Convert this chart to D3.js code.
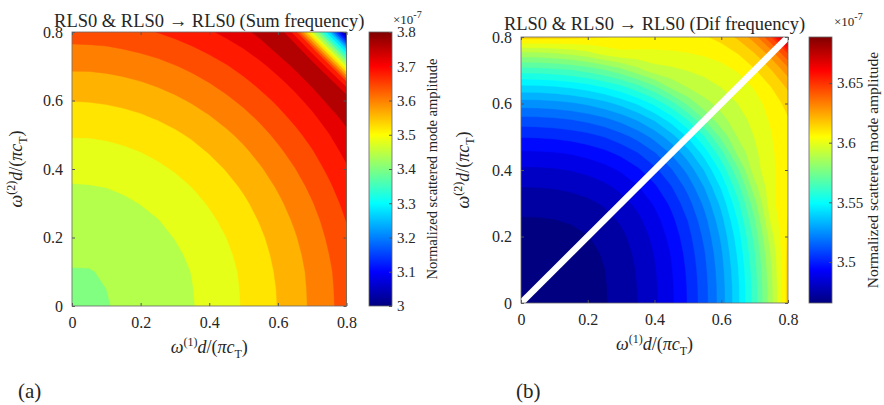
<!DOCTYPE html>
<html>
<head>
<meta charset="utf-8">
<script src="https://cdn.jsdelivr.net/npm/d3@7"></script>
<style>
  body { margin: 0; background: #fff; }
  text { font-family: "Liberation Serif", "Times New Roman", serif; fill: #262626; }
</style>
</head>
<body>
<svg width="884" height="405"></svg>
<script>

// Grid of normalized frequencies, omega d/(pi c_T)
var freq = [0, 0.05, 0.1, 0.15, 0.2, 0.25, 0.3, 0.35, 0.4, 0.45, 0.5, 0.55, 0.6, 0.65, 0.7, 0.75, 0.8];
var freqTicks = [0, 0.2, 0.4, 0.6, 0.8];

// Amplitude (x 1e-7), rows: omega(2) = 0 .. 0.8, columns: omega(1) = 0 .. 0.8
var sumAmp = [
  [3.435, 3.436, 3.439, 3.443, 3.449, 3.457, 3.467, 3.478, 3.491, 3.506, 3.523, 3.541, 3.561, 3.583, 3.607, 3.632, 3.659],
  [3.436, 3.437, 3.440, 3.444, 3.450, 3.458, 3.468, 3.479, 3.492, 3.507, 3.524, 3.542, 3.562, 3.584, 3.608, 3.633, 3.660],
  [3.439, 3.439, 3.442, 3.446, 3.453, 3.460, 3.470, 3.481, 3.495, 3.509, 3.526, 3.544, 3.565, 3.586, 3.610, 3.635, 3.663],
  [3.443, 3.444, 3.446, 3.451, 3.457, 3.465, 3.474, 3.486, 3.499, 3.514, 3.530, 3.549, 3.569, 3.591, 3.614, 3.640, 3.667],
  [3.449, 3.450, 3.453, 3.457, 3.463, 3.471, 3.481, 3.492, 3.505, 3.520, 3.537, 3.555, 3.575, 3.597, 3.621, 3.646, 3.673],
  [3.457, 3.458, 3.460, 3.465, 3.471, 3.479, 3.488, 3.500, 3.513, 3.528, 3.544, 3.563, 3.583, 3.605, 3.628, 3.654, 3.681],
  [3.467, 3.467, 3.470, 3.474, 3.481, 3.488, 3.498, 3.509, 3.523, 3.537, 3.554, 3.572, 3.593, 3.614, 3.638, 3.663, 3.691],
  [3.478, 3.479, 3.481, 3.486, 3.492, 3.500, 3.509, 3.521, 3.534, 3.549, 3.565, 3.584, 3.604, 3.626, 3.649, 3.675, 3.702],
  [3.491, 3.492, 3.495, 3.499, 3.505, 3.513, 3.523, 3.534, 3.547, 3.562, 3.579, 3.597, 3.617, 3.639, 3.663, 3.688, 3.715],
  [3.506, 3.507, 3.509, 3.514, 3.520, 3.528, 3.537, 3.549, 3.562, 3.577, 3.593, 3.612, 3.632, 3.654, 3.677, 3.703, 3.730],
  [3.523, 3.523, 3.526, 3.530, 3.537, 3.544, 3.554, 3.565, 3.579, 3.593, 3.610, 3.628, 3.649, 3.670, 3.694, 3.719, 3.747],
  [3.541, 3.542, 3.544, 3.549, 3.555, 3.563, 3.572, 3.584, 3.597, 3.612, 3.628, 3.647, 3.667, 3.689, 3.712, 3.738, 3.776],
  [3.561, 3.562, 3.565, 3.569, 3.575, 3.583, 3.593, 3.604, 3.617, 3.632, 3.649, 3.667, 3.687, 3.709, 3.733, 3.772, 3.790],
  [3.583, 3.584, 3.586, 3.591, 3.597, 3.605, 3.614, 3.626, 3.639, 3.654, 3.670, 3.689, 3.709, 3.731, 3.768, 3.788, 3.700],
  [3.607, 3.607, 3.610, 3.614, 3.621, 3.628, 3.638, 3.649, 3.663, 3.677, 3.694, 3.712, 3.733, 3.768, 3.785, 3.696, 3.480],
  [3.632, 3.633, 3.635, 3.640, 3.646, 3.654, 3.663, 3.675, 3.688, 3.703, 3.719, 3.738, 3.772, 3.788, 3.696, 3.479, 3.280],
  [3.659, 3.660, 3.663, 3.667, 3.673, 3.681, 3.691, 3.702, 3.715, 3.730, 3.747, 3.776, 3.790, 3.700, 3.480, 3.280, 3.000]
];

var difAmp = [
  [3.4656, 3.4658, 3.4666, 3.4678, 3.4697, 3.4724, 3.4759, 3.4805, 3.4865, 3.4939, 3.5032, 3.5146, 3.5286, 3.5454, 3.5655, 3.5894, 3.6175],
  [3.4658, 3.4660, 3.4667, 3.4679, 3.4698, 3.4725, 3.4760, 3.4807, 3.4866, 3.4941, 3.5034, 3.5149, 3.5288, 3.5457, 3.5659, 3.5898, 3.6174],
  [3.4666, 3.4667, 3.4672, 3.4683, 3.4702, 3.4729, 3.4765, 3.4811, 3.4871, 3.4947, 3.5041, 3.5157, 3.5297, 3.5467, 3.5671, 3.5911, 3.6170],
  [3.4678, 3.4679, 3.4683, 3.4694, 3.4711, 3.4738, 3.4773, 3.4821, 3.4882, 3.4958, 3.5054, 3.5171, 3.5313, 3.5486, 3.5690, 3.5933, 3.6163],
  [3.4697, 3.4698, 3.4702, 3.4711, 3.4728, 3.4754, 3.4789, 3.4837, 3.4899, 3.4977, 3.5074, 3.5194, 3.5338, 3.5512, 3.5721, 3.5967, 3.6154],
  [3.4724, 3.4725, 3.4729, 3.4738, 3.4754, 3.4779, 3.4814, 3.4862, 3.4925, 3.5005, 3.5104, 3.5225, 3.5373, 3.5551, 3.5763, 3.6013, 3.6145],
  [3.4759, 3.4760, 3.4765, 3.4773, 3.4789, 3.4814, 3.4850, 3.4899, 3.4963, 3.5044, 3.5146, 3.5270, 3.5421, 3.5602, 3.5819, 3.6045, 3.6137],
  [3.4805, 3.4807, 3.4811, 3.4821, 3.4837, 3.4862, 3.4899, 3.4949, 3.5014, 3.5097, 3.5201, 3.5329, 3.5484, 3.5670, 3.5891, 3.6045, 3.6131],
  [3.4865, 3.4866, 3.4871, 3.4882, 3.4899, 3.4925, 3.4963, 3.5014, 3.5081, 3.5167, 3.5274, 3.5405, 3.5565, 3.5755, 3.5961, 3.6047, 3.6127],
  [3.4939, 3.4941, 3.4947, 3.4958, 3.4977, 3.5005, 3.5044, 3.5097, 3.5167, 3.5255, 3.5366, 3.5502, 3.5665, 3.5862, 3.5976, 3.6054, 3.6126],
  [3.5032, 3.5034, 3.5041, 3.5054, 3.5074, 3.5104, 3.5146, 3.5201, 3.5274, 3.5366, 3.5480, 3.5621, 3.5790, 3.5924, 3.5996, 3.6064, 3.6128],
  [3.5146, 3.5149, 3.5157, 3.5171, 3.5194, 3.5225, 3.5270, 3.5329, 3.5405, 3.5502, 3.5621, 3.5767, 3.5896, 3.5958, 3.6019, 3.6078, 3.6133],
  [3.5286, 3.5288, 3.5297, 3.5313, 3.5338, 3.5373, 3.5421, 3.5484, 3.5565, 3.5665, 3.5790, 3.5896, 3.5945, 3.5995, 3.6045, 3.6094, 3.6171],
  [3.5454, 3.5457, 3.5467, 3.5486, 3.5512, 3.5551, 3.5602, 3.5670, 3.5755, 3.5862, 3.5924, 3.5958, 3.5995, 3.6034, 3.6074, 3.6143, 3.6230],
  [3.5655, 3.5659, 3.5671, 3.5690, 3.5721, 3.5763, 3.5819, 3.5891, 3.5961, 3.5976, 3.5996, 3.6019, 3.6045, 3.6074, 3.6134, 3.6213, 3.6331],
  [3.5894, 3.5898, 3.5911, 3.5933, 3.5967, 3.6013, 3.6045, 3.6045, 3.6047, 3.6054, 3.6064, 3.6078, 3.6094, 3.6143, 3.6213, 3.6323, 3.6512],
  [3.6175, 3.6174, 3.6170, 3.6163, 3.6154, 3.6145, 3.6137, 3.6131, 3.6127, 3.6126, 3.6128, 3.6133, 3.6171, 3.6230, 3.6331, 3.6512, 3.6886]
];

// Colorbar ranges and ticks
var sumRange = [3.0, 3.8];
var difRange = [3.4656, 3.6886];
var sumBarTicks = [3, 3.1, 3.2, 3.3, 3.4, 3.5, 3.6, 3.7, 3.8];
var difBarTicks = [3.5, 3.55, 3.6, 3.65];

var svg = d3.select('svg');

// MATLAB jet colormap
var jetStops = [0, 0.125, 0.375, 0.625, 0.875, 1];
var jetColors = ['#000080', '#0000ff', '#00ffff', '#ffff00', '#ff0000', '#800000'];
var jet = d3.scaleLinear().domain(jetStops).range(jetColors).clamp(true);

var panels = [
  {
    id: 'a', grid: sumAmp, range: sumRange, barTicks: sumBarTicks, nLevels: 20,
    title: 'RLS0 & RLS0 \u2192 RLS0 (Sum frequency)',
    x0: 72, x1: 346.5, y0: 32, y1: 306, barX: 369, titleY: 27,
    expX: 393, expY: 24, xLabelY: 353, yLabelX: 22, cbLabelX: 437, cbFont: 14.5,
    tag: '(a)', tagX: 18
  },
  {
    id: 'b', grid: difAmp, range: difRange, barTicks: difBarTicks, nLevels: 30,
    title: 'RLS0 & RLS0 \u2192 RLS0 (Dif frequency)',
    x0: 521, x1: 788, y0: 37, y1: 303, barX: 809, titleY: 30,
    expX: 834, expY: 26, xLabelY: 350, yLabelX: 469, cbLabelX: 878, cbFont: 15.5,
    tag: '(b)', tagX: 516, diagonal: true
  }
];

// omega^(n) d/(pi c_T)
function freqLabel(sel, n) {
  sel.append('tspan').attr('font-style', 'italic').text('\u03c9');
  sel.append('tspan').attr('font-size', '12px').attr('dy', -7).text('(' + n + ')');
  sel.append('tspan').attr('font-style', 'italic').attr('dy', 7).text('d');
  sel.append('tspan').text('/(');
  sel.append('tspan').attr('font-style', 'italic').text('\u03c0c');
  sel.append('tspan').attr('font-size', '12px').attr('dy', 5).text('T');
  sel.append('tspan').attr('dy', -5).text(')');
}

function drawPanel(p) {
  var g = svg.append('g');
  var xs = d3.scaleLinear().domain([0, 0.8]).range([p.x0, p.x1]);
  var ys = d3.scaleLinear().domain([0, 0.8]).range([p.y1, p.y0]);
  var lo = p.range[0], hi = p.range[1];
  var color = function(v) { return jet((v - lo) / (hi - lo)); };

  // Filled contours
  var values = d3.merge(p.grid);
  var levels = d3.range(p.nLevels).map(function(k) { return lo + k * (hi - lo) / p.nLevels; });
  var contours = d3.contours().size([freq.length, freq.length]).thresholds(levels)(values);
  var step = freq[1] - freq[0];
  var proj = d3.geoTransform({
    point: function(x, y) {
      this.stream.point(xs(freq[0] + (x - 0.5) * step), ys(freq[0] + (y - 0.5) * step));
    }
  });
  var path = d3.geoPath(proj);

  g.append('clipPath').attr('id', 'clip-' + p.id)
    .append('rect').attr('x', p.x0).attr('y', p.y0)
    .attr('width', p.x1 - p.x0).attr('height', p.y1 - p.y0);

  var plot = g.append('g').attr('clip-path', 'url(#clip-' + p.id + ')');
  plot.append('rect').attr('x', p.x0).attr('y', p.y0)
    .attr('width', p.x1 - p.x0).attr('height', p.y1 - p.y0)
    .attr('fill', color(lo));
  plot.selectAll('path.band').data(contours).enter().append('path')
    .attr('class', 'band')
    .attr('d', path)
    .attr('fill', function(d) { return color(d.value); })
    .attr('stroke', function(d) { return color(d.value); })
    .attr('stroke-width', 0.4);

  if (p.diagonal) {
    g.append('line')
      .attr('x1', xs(freq[0])).attr('y1', ys(freq[0]))
      .attr('x2', xs(freq[freq.length - 1])).attr('y2', ys(freq[freq.length - 1]))
      .attr('stroke', '#fff').attr('stroke-width', 6.5);
  }

  // Axes with inward ticks
  var fmt = function(d) { return String(d); };
  var ax = g.append('g').attr('transform', 'translate(0,' + p.y1 + ')')
    .call(d3.axisBottom(xs).tickValues(freqTicks).tickFormat(fmt).tickSizeInner(-3).tickSizeOuter(0).tickPadding(11));
  var ay = g.append('g').attr('transform', 'translate(' + p.x0 + ',0)')
    .call(d3.axisLeft(ys).tickValues(freqTicks).tickFormat(fmt).tickSizeInner(-3).tickSizeOuter(0).tickPadding(9));
  var at = g.append('g').attr('transform', 'translate(0,' + p.y0 + ')')
    .call(d3.axisTop(xs).tickValues(freqTicks).tickFormat('').tickSizeInner(-3).tickSizeOuter(0));
  var ar = g.append('g').attr('transform', 'translate(' + p.x1 + ',0)')
    .call(d3.axisRight(ys).tickValues(freqTicks).tickFormat('').tickSizeInner(-3).tickSizeOuter(0));
  [ax, ay, at, ar].forEach(function(a) {
    a.select('.domain').remove();
    a.selectAll('line').attr('stroke', '#555');
    a.selectAll('text').attr('font-size', '16px').attr('font-family', null).attr('fill', '#262626');
  });
  g.append('rect').attr('x', p.x0).attr('y', p.y0)
    .attr('width', p.x1 - p.x0).attr('height', p.y1 - p.y0)
    .attr('fill', 'none').attr('stroke', '#666').attr('stroke-width', 0.8);

  // Title
  g.append('text').attr('x', (p.x0 + p.x1) / 2).attr('y', p.titleY)
    .attr('text-anchor', 'middle').attr('font-size', '18.5px').text(p.title);

  // Axis labels
  freqLabel(g.append('text').attr('x', (p.x0 + p.x1) / 2).attr('y', p.xLabelY)
    .attr('text-anchor', 'middle').attr('font-size', '18px'), 1);
  freqLabel(g.append('text')
    .attr('transform', 'translate(' + p.yLabelX + ',' + (p.y0 + p.y1) / 2 + ') rotate(-90)')
    .attr('text-anchor', 'middle').attr('font-size', '18px'), 2);

  // Colorbar
  var barW = 23;
  var cs = d3.scaleLinear().domain([lo, hi]).range([p.y1, p.y0]);
  var grad = g.append('defs').append('linearGradient').attr('id', 'grad-' + p.id)
    .attr('x1', 0).attr('y1', 1).attr('x2', 0).attr('y2', 0);
  grad.selectAll('stop').data(jetStops).enter().append('stop')
    .attr('offset', function(d) { return d; })
    .attr('stop-color', function(d, i) { return jetColors[i]; });
  g.append('rect').attr('x', p.barX).attr('y', p.y0)
    .attr('width', barW).attr('height', p.y1 - p.y0)
    .attr('fill', 'url(#grad-' + p.id + ')')
    .attr('stroke', '#666').attr('stroke-width', 0.8);
  var ac = g.append('g').attr('transform', 'translate(' + (p.barX + barW) + ',0)')
    .call(d3.axisRight(cs).tickValues(p.barTicks).tickFormat(fmt).tickSizeInner(-3).tickSizeOuter(0).tickPadding(5));
  ac.select('.domain').remove();
  ac.selectAll('line').attr('stroke', '#555');
  ac.selectAll('text').attr('font-size', '15px').attr('font-family', null).attr('fill', '#262626');

  var ex = g.append('text').attr('x', p.expX).attr('y', p.expY).attr('font-size', '13px');
  ex.append('tspan').text('\u00d710');
  ex.append('tspan').attr('font-size', '10px').attr('dy', -6).text('-7');

  g.append('text')
    .attr('transform', 'translate(' + p.cbLabelX + ',' + (p.y0 + p.y1) / 2 + ') rotate(-90)')
    .attr('text-anchor', 'middle').attr('font-size', p.cbFont + 'px')
    .text('Normalized scattered mode amplitude');

  // Panel tag
  g.append('text').attr('x', p.tagX).attr('y', 398).attr('font-size', '21px').text(p.tag);
}

panels.forEach(drawPanel);
</script>
</body>
</html>
